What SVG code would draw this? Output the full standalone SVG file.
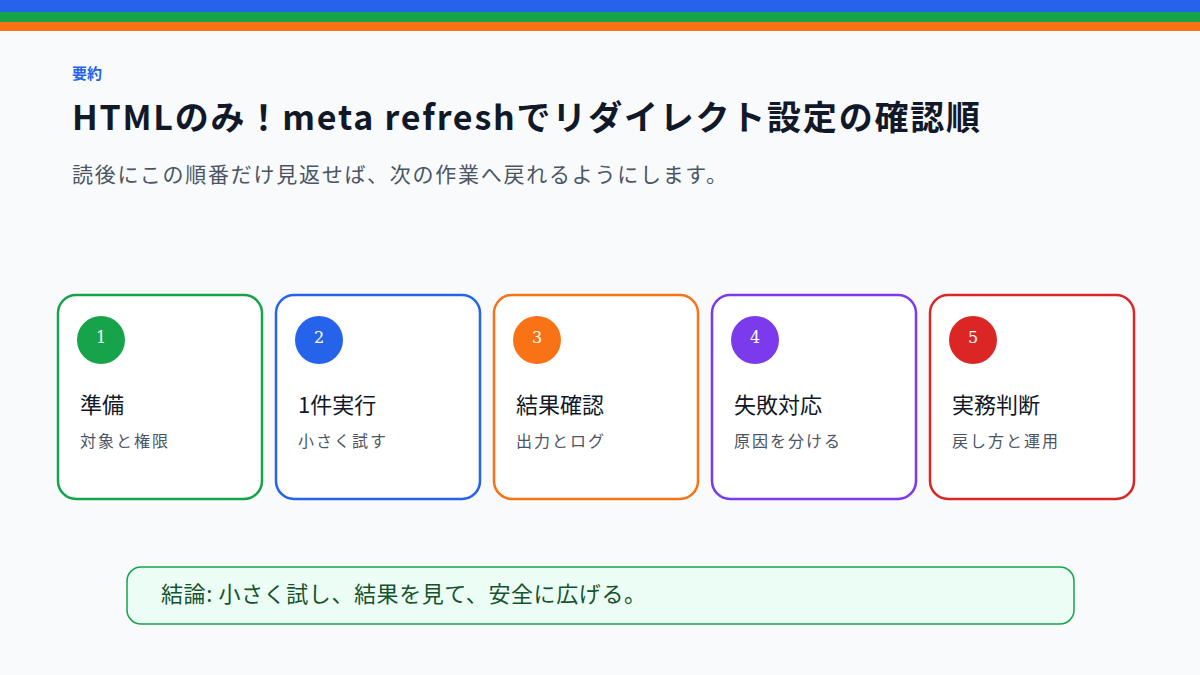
<svg xmlns="http://www.w3.org/2000/svg" width="1200" height="675" viewBox="0 0 1200 675">
<style>
.jp{font-family:"Noto Sans CJK JP","Noto Sans",sans-serif}
.card{fill:#fff;stroke-width:2.5}
.num{font-family:"DejaVu Serif",serif;font-size:16px;fill:#fff;text-anchor:middle}
.t{font-size:22px;fill:#111827}
.s{font-size:16px;fill:#4b5563;letter-spacing:2px}
</style>
<rect width="1200" height="675" fill="#f8fafc"/>
<rect y="0" width="1200" height="12" fill="#2563eb"/>
<rect y="12" width="1200" height="10" fill="#16a34a"/>
<rect y="22" width="1200" height="9" fill="#f97316"/>
<text class="jp" x="72" y="79" font-size="15" font-weight="bold" fill="#2563eb">要約</text>
<text class="jp" x="72" y="130" font-size="34" font-weight="bold" fill="#111827" textLength="908" lengthAdjust="spacing">HTMLのみ！meta refreshでリダイレクト設定の確認順</text>
<text class="jp" x="72" y="182" font-size="21" fill="#4b5563" textLength="655" lengthAdjust="spacing">読後にこの順番だけ見返せば、次の作業へ戻れるようにします。</text>
<g id="n1"><rect class="card" x="58" y="295" width="204" height="204" rx="18" stroke="#16a34a"/><circle cx="101" cy="340" r="24" fill="#16a34a"/><text class="num" x="101" y="343">1</text><text class="jp t" x="80" y="413">準備</text><text class="jp s" x="80" y="447">対象と権限</text></g>
<g id="n2"><rect class="card" x="276" y="295" width="204" height="204" rx="18" stroke="#2563eb"/><circle cx="319" cy="340" r="24" fill="#2563eb"/><text class="num" x="319" y="343">2</text><text class="jp t" x="298" y="413">1件実行</text><text class="jp s" x="298" y="447">小さく試す</text></g>
<g id="n3"><rect class="card" x="494" y="295" width="204" height="204" rx="18" stroke="#f97316"/><circle cx="537" cy="340" r="24" fill="#f97316"/><text class="num" x="537" y="343">3</text><text class="jp t" x="516" y="413">結果確認</text><text class="jp s" x="516" y="447">出力とログ</text></g>
<g id="n4"><rect class="card" x="712" y="295" width="204" height="204" rx="18" stroke="#7c3aed"/><circle cx="755" cy="340" r="24" fill="#7c3aed"/><text class="num" x="755" y="343">4</text><text class="jp t" x="734" y="413">失敗対応</text><text class="jp s" x="734" y="447">原因を分ける</text></g>
<g id="n5"><rect class="card" x="930" y="295" width="204" height="204" rx="18" stroke="#dc2626"/><circle cx="973" cy="340" r="24" fill="#dc2626"/><text class="num" x="973" y="343">5</text><text class="jp t" x="952" y="413">実務判断</text><text class="jp s" x="952" y="447">戻し方と運用</text></g>
<g id="connectors"/>
<g id="conclusion"><rect x="127" y="567" width="947" height="57" rx="14" fill="#ecfdf5" stroke="#16a34a" stroke-width="1.5"/><text class="jp" x="161" y="602" font-size="22" fill="#14532d" textLength="485" lengthAdjust="spacing">結論: 小さく試し、結果を見て、安全に広げる。</text></g>
</svg>
